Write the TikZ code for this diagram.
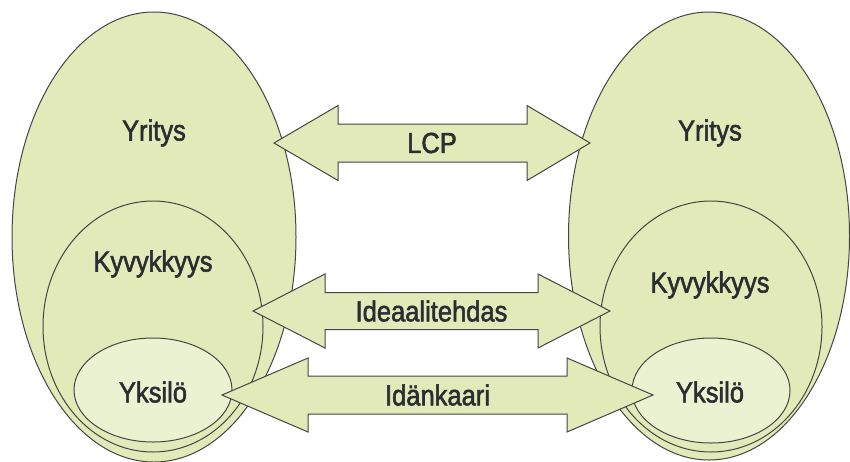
\documentclass[tikz,border=0pt]{standalone}
\usepackage{fontspec}
\setmainfont{Liberation Sans}[FakeStretch=0.88,FakeBold=1.8]
\usetikzlibrary{calc,shapes.geometric}
\definecolor{fillA}{HTML}{E1EAB8}
\definecolor{fillB}{HTML}{EBF2D1}
\definecolor{lineC}{HTML}{454545}
\definecolor{txt}{HTML}{2A2D31}
\newcommand\dblarrow[6]{%
  \draw[arr] (#1) -- ($(#1)+(#3,-#5)$) -- ($(#1)+(#3,-#4)$) -- ($(#2)+(-#6,-#4)$) -- ($(#2)+(-#6,-#5)$) -- (#2)
    -- ($(#2)+(-#6,#5)$) -- ($(#2)+(-#6,#4)$) -- ($(#1)+(#3,#4)$) -- ($(#1)+(#3,#5)$) -- cycle;}
\begin{document}
\begin{tikzpicture}[x=1pt,y=-1pt,
  ell/.style={ellipse, draw=lineC, line width=1pt, inner sep=0pt},
  big/.style={ell, fill=fillA},
  mid/.style={ell, fill=fillA},
  small/.style={ell, fill=fillB},
  lbl/.style={text=txt, font=\fontsize{29}{32}\selectfont, inner sep=0pt},
  arr/.style={draw=lineC, line width=1pt, fill=fillA, line join=miter}]
\useasboundingbox (0,0) rectangle (850,461);
% left group
\node[big, minimum width=284pt, minimum height=450pt] (Lbig) at (154,237) {};
\node[mid, minimum width=220pt, minimum height=251pt] (Lmid) at (153,326.5) {};
\node[small, minimum width=158pt, minimum height=104pt] (Lsmall) at (153,390) {};
% right group
\node[big, minimum width=281pt, minimum height=448pt] (Rbig) at (709,236) {};
\node[mid, minimum width=222pt, minimum height=251pt] (Rmid) at (711,326.5) {};
\node[small, minimum width=158pt, minimum height=105pt] (Rsmall) at (711,390.5) {};
% labels
\node[lbl] (tLy) at (154,133) {Yritys};
\node[lbl] (tLk) at (153,264) {Kyvykkyys};
\node[lbl] (tLs) at (153,392) {Yksilö};
\node[lbl] (tRy) at (710,133) {Yritys};
\node[lbl] (tRk) at (710,285) {Kyvykkyys};
\node[lbl] (tRs) at (710,392) {Yksilö};
% arrows
\coordinate (aL1) at ($(Lbig.center)+(120,-94)$);
\coordinate (aR1) at ($(Rbig.center)+(-119,-93)$);
\coordinate (aL2) at (253,311);
\coordinate (aR2) at (610,311);
\coordinate (aL3) at (222,395);
\coordinate (aR3) at (653,395);
\dblarrow{aL1}{aR1}{64}{19}{37.5}{63}
\dblarrow{aL2}{aR2}{72}{18.5}{37}{72}
\dblarrow{aL3}{aR3}{86}{19}{37}{86}
\node[lbl] (tA1) at ($(aL1)!0.5!(aR1)$) {LCP};
\node[lbl] (tA2) at ($(aL2)!0.5!(aR2)$) {Ideaalitehdas};
\node[lbl] (tA3) at ($(aL3)!0.5!(aR3)$) {Idänkaari};
\end{tikzpicture}
\end{document}
